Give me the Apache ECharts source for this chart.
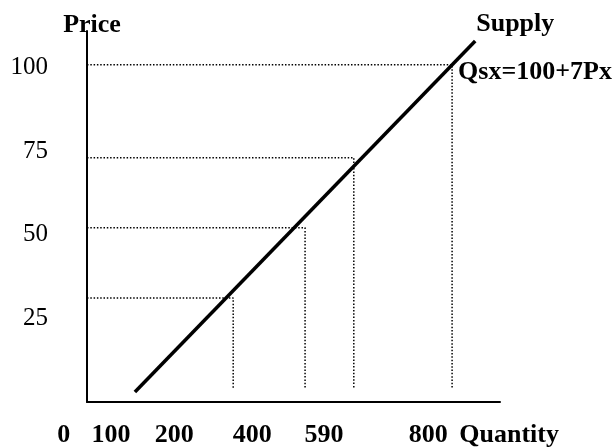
<!DOCTYPE html>
<html>
<head>
<meta charset="utf-8">
<title>Supply</title>
<script src="https://cdn.jsdelivr.net/npm/echarts@6/dist/echarts.min.js"></script>
<style>
  html, body { margin: 0; padding: 0; background: #fff; }
  #main { width: 614px; height: 448px; }
</style>
</head>
<body>
<div id="main"></div>
<script>
  // price ticks shown on the vertical axis
  var priceTicks = [25, 50, 75, 100];
  // supply line as drawn: [quantity position, price]
  var supplyLine = [[116, 3], [940, 108]];
  // dotted guides: price level as drawn, and where each one drops down
  var guideLevels = [100.9, 73.1, 52.1, 31.1];
  var guideDrops = [884, 646, 528, 354];
  var guideFloor = 4.2;
  // quantity labels under the axis (the sketch is not to scale)
  var qtyLabels = ['0', '100', '200', '400', '590', '800', 'Quantity'];
  var qtyLabelPos = [-56, 58, 211, 400, 574, 826, 1022];
  var notes = ['Supply', 'Qsx=100+7Px'];

  var W = 614;
  var plotLeft = 87, plotRight = 114, plotTop = 31, plotBottom = 46;
  var xMax = 1000, yMax = 111;
  var pxPerUnit = (W - plotLeft - plotRight) / xMax;
  var serif = '"Liberation Serif", "Times New Roman", serif';

  var guideSeries = guideLevels.map(function (lv, i) {
    return {
      type: 'line',
      xAxisIndex: 0,
      yAxisIndex: 0,
      symbol: 'none',
      silent: true,
      lineStyle: { color: '#000', width: 1.5, type: [1.5, 1.8] },
      data: [[0, lv], [guideDrops[i], lv], [guideDrops[i], guideFloor]]
    };
  });

  var option = {
    animation: false,
    backgroundColor: '#fff',
    grid: [
      { left: plotLeft, right: plotRight, top: plotTop, bottom: plotBottom, outerBoundsMode: 'none' },
      { left: 0, right: 0, top: plotTop, bottom: plotBottom, outerBoundsMode: 'none' }
    ],
    xAxis: [
      {
        type: 'value', gridIndex: 0, min: 0, max: xMax,
        axisLine: { show: true, lineStyle: { color: '#000', width: 2 } },
        axisTick: { show: false },
        axisLabel: { show: false },
        splitLine: { show: false }
      },
      {
        type: 'value', gridIndex: 1,
        min: -plotLeft / pxPerUnit,
        max: (W - plotLeft) / pxPerUnit,
        axisLine: { show: false },
        axisTick: { show: false },
        splitLine: { show: false },
        axisLabel: {
          customValues: qtyLabelPos,
          margin: 20,
          color: '#000',
          fontFamily: serif,
          fontSize: 26,
          fontWeight: 'bold',
          formatter: function (v) {
            var i = qtyLabelPos.indexOf(v);
            return i < 0 ? '' : qtyLabels[i];
          }
        }
      }
    ],
    yAxis: [
      {
        type: 'value', gridIndex: 0, min: 0, max: yMax,
        name: 'Price',
        nameLocation: 'end',
        nameGap: -7,
        nameTextStyle: {
          color: '#000', fontFamily: serif, fontSize: 26, fontWeight: 'bold',
          padding: [0, 0, 0, 10]
        },
        axisLine: { show: true, lineStyle: { color: '#000', width: 2 } },
        axisTick: { show: false },
        splitLine: { show: false },
        axisLabel: {
          customValues: priceTicks,
          margin: 39,
          color: '#000',
          fontFamily: serif,
          fontSize: 25
        }
      },
      {
        type: 'value', gridIndex: 1, show: false, min: 0, max: yMax
      }
    ],
    series: guideSeries.concat([
      {
        type: 'line',
        name: 'Supply',
        xAxisIndex: 0,
        yAxisIndex: 0,
        symbol: 'none',
        silent: true,
        lineStyle: { color: '#000', width: 3.5 },
        data: supplyLine
      },
      {
        type: 'scatter',
        xAxisIndex: 0,
        yAxisIndex: 0,
        symbolSize: 0,
        silent: true,
        itemStyle: { opacity: 1, color: '#000' },
        label: {
          show: true,
          color: '#000',
          opacity: 1,
          fontFamily: serif,
          fontSize: 26,
          fontWeight: 'bold'
        },
        data: [
          { value: supplyLine[1], label: { position: [1, -30], formatter: notes[0] } },
          { value: [guideDrops[0], guideLevels[0]], label: { position: [6, -5], formatter: notes[1] } }
        ]
      }
    ])
  };

  var myChart = echarts.init(document.getElementById('main'));
  myChart.setOption(option);
</script>
</body>
</html>
